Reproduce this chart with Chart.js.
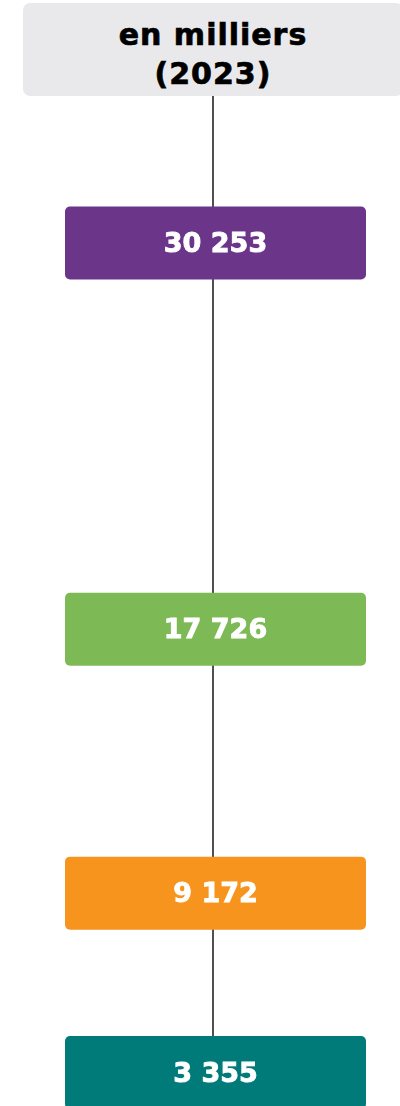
<!DOCTYPE html>
<html lang="fr">
<head>
<meta charset="utf-8">
<title>en milliers (2023)</title>
<script src="https://cdn.jsdelivr.net/npm/chart.js@4"></script>
<style>
  html, body { margin: 0; padding: 0; background: #fff; overflow: hidden; }
  #wrap { position: relative; width: 400px; height: 1106px; overflow: hidden; }
  #chart { position: absolute; left: 0; top: 0; }
  #header {
    position: absolute; left: 23px; top: 3px; width: 380px; height: 81px;
    padding-top: 12px;
    background: #e9e9ec; border-radius: 7px;
    font-family: "DejaVu Sans", sans-serif; font-weight: bold; font-size: 30px;
    line-height: 39px; letter-spacing: 1px; text-align: center; color: #000;
    -webkit-text-stroke: 0.7px #000;
  }
</style>
</head>
<body>
<div id="wrap">
  <canvas id="chart" width="400" height="1106"></canvas>
  <div id="header">en milliers<br>(2023)</div>
</div>
<script>
// valeurs en milliers (2023)
const values = [30253, 17726, 9172, 3355];
const boxColors = ['#6b3589', '#7dba55', '#f7941e', '#007b79'];

// bornes de l'axe vertical (invisible)
const Y_MIN = 2270;
const Y_MAX = 38130;

const HEADER_BOTTOM = 96;
const BOX_W = 301;
const BOX_H = 73;

function formatNombre(v) {
    return String(v).replace(/\B(?=(\d{3})+(?!\d))/g, ' ');
}

const boxesPlugin = {
    id: 'boxes',
    beforeDatasetsDraw(chart) {
        // trait vertical derrière les cases
        const ctx = chart.ctx;
        const meta = chart.getDatasetMeta(0);
        const x = meta.data[0].x;
        const yBas = Math.max(...meta.data.map(p => p.y));
        ctx.save();
        ctx.strokeStyle = '#505050';
        ctx.lineWidth = 2;
        ctx.beginPath();
        ctx.moveTo(x, HEADER_BOTTOM);
        ctx.lineTo(x, yBas);
        ctx.stroke();
        ctx.restore();
    },
    afterDatasetsDraw(chart) {
        const ctx = chart.ctx;
        const meta = chart.getDatasetMeta(0);
        ctx.save();
        meta.data.forEach((pt, i) => {
            const left = pt.x - 148;
            const top = pt.y - BOX_H / 2;
            ctx.fillStyle = boxColors[i];
            ctx.beginPath();
            ctx.roundRect(left, top, BOX_W, BOX_H, 5);
            ctx.fill();

            const label = formatNombre(values[i]);
            ctx.fillStyle = '#fff';
            ctx.strokeStyle = '#fff';
            ctx.lineWidth = 0.9;
            ctx.font = 'bold 27px "DejaVu Sans", sans-serif';
            ctx.textAlign = 'center';
            ctx.textBaseline = 'middle';
            ctx.fillText(label, left + BOX_W / 2, pt.y + 2);
            ctx.strokeText(label, left + BOX_W / 2, pt.y + 2);
        });
        ctx.restore();
    }
};

new Chart(document.getElementById('chart'), {
    type: 'scatter',
    data: {
        datasets: [{
            data: values.map(v => ({ x: 0, y: v })),
            pointRadius: 0,
            pointHoverRadius: 0
        }]
    },
    options: {
        responsive: false,
        animation: false,
        devicePixelRatio: 1,
        layout: { padding: { left: 26, right: 0, top: 0, bottom: 0 } },
        plugins: { legend: { display: false }, tooltip: { enabled: false } },
        scales: {
            x: { type: 'linear', min: -1, max: 1, display: false },
            y: { type: 'linear', min: Y_MIN, max: Y_MAX, display: false }
        }
    },
    plugins: [boxesPlugin]
});
</script>
</body>
</html>
